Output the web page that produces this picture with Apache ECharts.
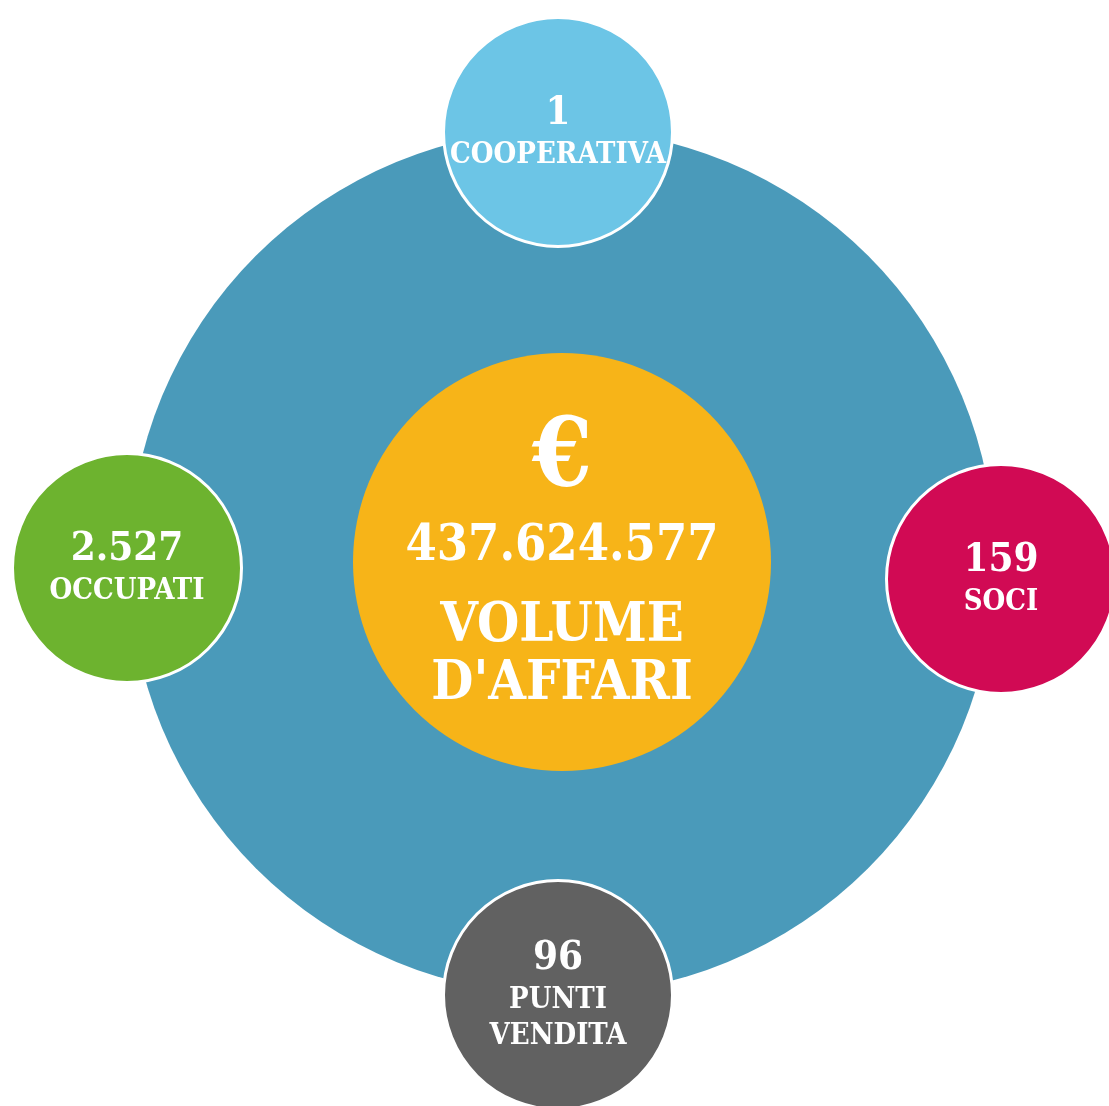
<!DOCTYPE html>
<html>
<head>
<meta charset="utf-8">
<title>Volume d'affari</title>
<script src="https://cdn.jsdelivr.net/npm/echarts@6/dist/echarts.min.js"></script>
<style>
  html, body { margin: 0; padding: 0; background: #fff; }
  #main { width: 1109px; height: 1106px; }
</style>
</head>
<body>
<div id="main"></div>
<script>
// dati
const categories = ['COOPERATIVA', 'SOCI', 'PUNTI VENDITA', 'OCCUPATI']
const values = [1, 159, 96, 2527]
const totalLabel = "VOLUME D'AFFARI"
const totalValue = 437624577

// layout (pixel della pagina)
const center = [562, 562]
const ringSize = 866
const coreSize = 418
const bubbleSize = 229
const slots = [[558, 132], [1001, 579], [558, 995], [127, 568]]
const colors = ['#6CC5E6', '#D10A54', '#616161', '#6DB32F']

const FONT = "'DejaVu Serif Condensed', 'DejaVu Serif', serif"

function fmt (n) {
  return String(n).replace(/\B(?=(\d{3})+(?!\d))/g, '.')
}

function twoLines (s) {
  // spezza solo le etichette con due parole
  return s.split(' ').join('\n')
}

const bubbleData = categories.map(function (name, i) {
  return {
    name: name,
    value: [slots[i][0], slots[i][1], values[i]],
    itemStyle: { color: colors[i] }
  }
})

const chart = echarts.init(document.getElementById('main'))
chart.setOption({
  animation: false,
  grid: { left: 0, right: 0, top: 0, bottom: 0 },
  xAxis: { type: 'value', min: 0, max: 1109, show: false },
  yAxis: { type: 'value', min: 0, max: 1106, inverse: true, show: false },
  series: [
    {
      // anello blu
      type: 'scatter',
      silent: true,
      clip: false,
      symbol: 'circle',
      symbolSize: ringSize,
      itemStyle: { color: '#4A9ABA', opacity: 1 },
      data: [[center[0], center[1]]]
    },
    {
      // cerchio centrale
      type: 'scatter',
      silent: true,
      clip: false,
      symbol: 'circle',
      symbolSize: coreSize,
      itemStyle: { color: '#F7B418', opacity: 1 },
      label: {
        show: true,
        position: 'inside',
        offset: [0, 0],
        formatter: function (p) {
          const lines = twoLines(totalLabel).split('\n')
          return '{e|€}\n{n|' + fmt(p.value[2]) + '}\n{t|' + lines[0] + '}\n{b|' + lines[1] + '}'
        },
        rich: {
          e: { color: '#fff', fontFamily: FONT, fontWeight: 'bold', fontSize: 96, lineHeight: 86 },
          n: { color: '#fff', fontFamily: FONT, fontWeight: 'bold', fontSize: 50, lineHeight: 86 },
          t: { color: '#fff', fontFamily: FONT, fontWeight: 'bold', fontSize: 54, lineHeight: 74 },
          b: { color: '#fff', fontFamily: FONT, fontWeight: 'bold', fontSize: 54, lineHeight: 42 }
        }
      },
      data: [{ name: totalLabel, value: [center[0], center[1], totalValue] }]
    },
    {
      // cerchi laterali
      type: 'scatter',
      silent: true,
      clip: false,
      symbol: 'circle',
      symbolSize: bubbleSize,
      itemStyle: { borderColor: '#fff', borderWidth: 3, opacity: 1 },
      label: {
        show: true,
        position: 'inside',
        formatter: function (p) {
          const lines = twoLines(p.name).split('\n')
          return '{v|' + fmt(p.value[2]) + '}\n' + lines.map(function (l) { return '{c|' + l + '}' }).join('\n')
        },
        rich: {
          v: { color: '#fff', fontFamily: FONT, fontWeight: 'bold', fontSize: 40, lineHeight: 46 },
          c: { color: '#fff', fontFamily: FONT, fontWeight: 'bold', fontSize: 29, lineHeight: 36 }
        }
      },
      data: bubbleData
    }
  ]
})
</script>
</body>
</html>
